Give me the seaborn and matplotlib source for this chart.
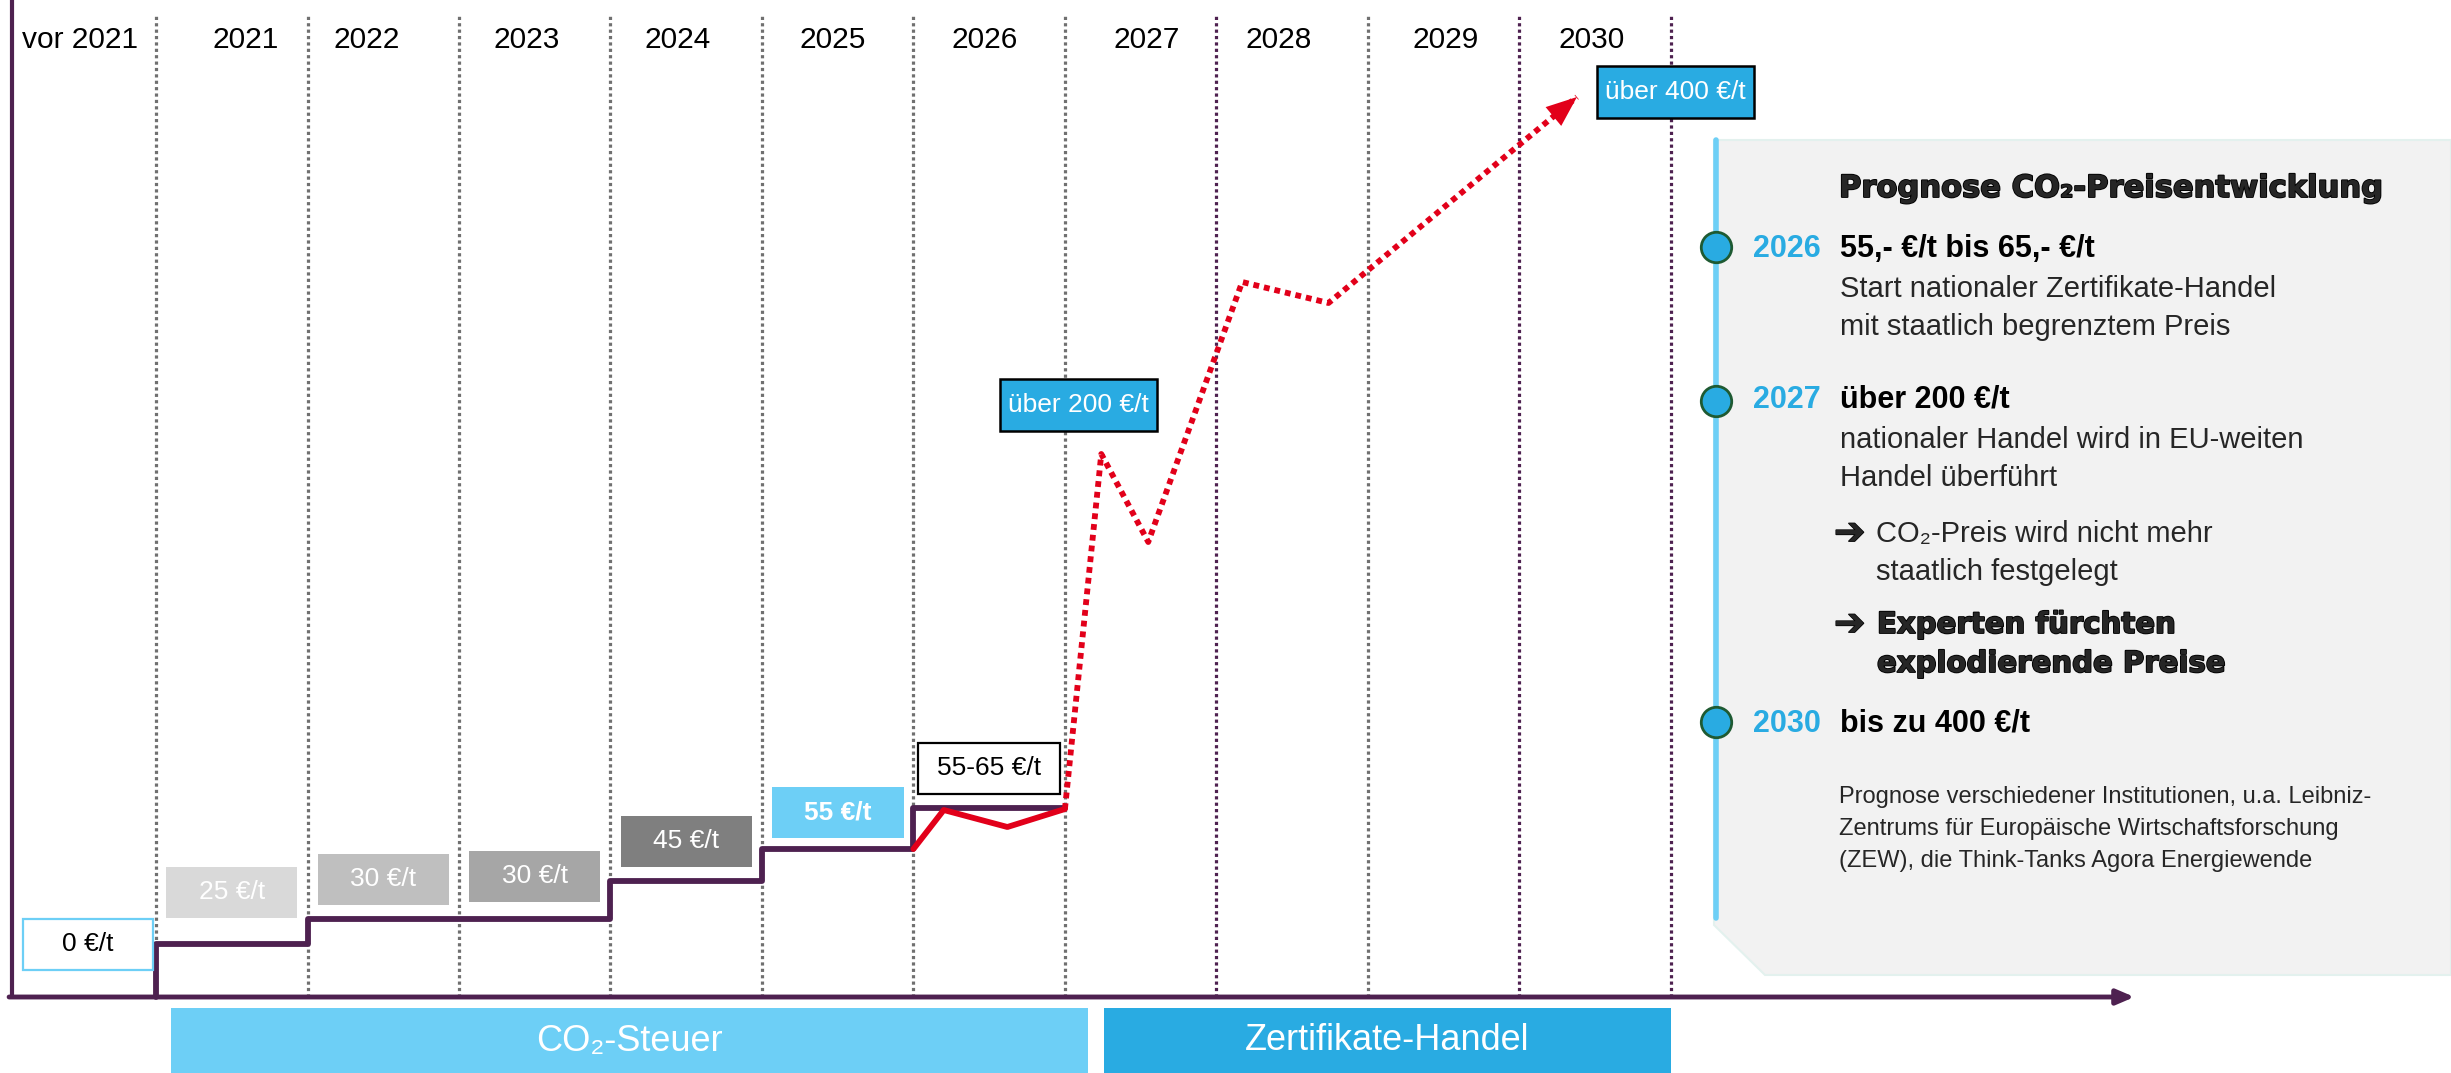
import matplotlib
matplotlib.use('Agg')
import matplotlib.pyplot as plt
import matplotlib.patheffects as pe
from matplotlib.patches import Rectangle, Polygon
import seaborn as sns

sns.set_theme(style='white')
plt.rcParams['font.family'] = ['Liberation Sans', 'DejaVu Sans']

# Zeitachse (x in Spaltenbreiten, Spalte 0 = 2021)
jahre = ['vor 2021', '2021', '2022', '2023', '2024', '2025', '2026', '2027', '2028', '2029', '2030']
jahr_x = [-0.5, 0.59, 1.39, 2.45, 3.44, 4.47, 5.47, 6.54, 7.41, 8.51, 9.48]
grenzen = [0, 1, 2, 3, 4, 5, 6, 7, 8, 9, 10]
grenz_lila = [False, False, False, False, False, False, False, True, False, True, True]

# CO2-Steuer als Treppe (Hoehe im Bild, nicht massstabsgetreu)
stufen_x = [0, 0, 1, 2, 3, 4, 5, 6]
stufen_y = [0, 5.3, 7.8, 7.8, 11.6, 14.8, 18.9, 18.9]

# Preisschilder
preis_text = ['0 €/t', '25 €/t', '30 €/t', '30 €/t', '45 €/t', '55 €/t', '55-65 €/t']
preis_x = [-0.45, 0.5, 1.5, 2.5, 3.5, 4.5, 5.5]
preis_y = [5.3, 10.5, 11.8, 12.1, 15.6, 18.5, 22.9]

# nationaler Handel 2026 (rot, durchgezogen) und Prognose ab 2027 (rot, gepunktet)
handel_x = [5.0, 5.2, 5.62, 6.0]
handel_y = [14.8, 18.7, 17.0, 18.8]
prognose_x = [6.0, 6.24, 6.55, 7.17, 7.74, 9.38]
prognose_y = [18.8, 54.3, 45.5, 71.5, 69.4, 90.0]

prognose_text = ['über 200 €/t', 'über 400 €/t']
prognose_lx = [6.09, 10.03]
prognose_ly = [59.2, 90.5]

# Phasen unten
phasen = ['CO₂-Steuer', 'Zertifikate-Handel']
phase_von = [0.1, 6.26]
phase_bis = [6.15, 10.0]

# Textblock rechts
panel_jahre = ['2026', '2027', '2030']
panel_kopf = ['55,- €/t bis 65,- €/t', 'über 200 €/t', 'bis zu 400 €/t']
panel_text = [['Start nationaler Zertifikate-Handel', 'mit staatlich begrenztem Preis'],
              ['nationaler Handel wird in EU-weiten', 'Handel überführt'],
              []]
quelle = ['Prognose verschiedener Institutionen, u.a. Leibniz-',
          'Zentrums für Europäische Wirtschaftsforschung',
          '(ZEW), die Think-Tanks Agora Energiewende']

lila = '#4E2150'
grau = '#707070'
rot = '#E2001A'
hellblau = '#6DCFF6'
blau = '#29ABE2'

W, H = 2451, 1073
fig = plt.figure(figsize=(W / 100, H / 100), dpi=100)
fig.patch.set_facecolor('white')

ax = fig.add_axes([0, 0, 1, 1])
ax.set_xlim(-1.03, 15.15)
ax.set_ylim(-7.6, 99.7)
ax.axis('off')

# Spaltengrenzen
for g, is_lila in zip(grenzen, grenz_lila):
    ax.plot([g, g], [0, 98.3], color=lila if is_lila else grau, lw=2.3,
            linestyle=(0, (1, 1)), zorder=1)

for j, x in zip(jahre, jahr_x):
    ax.text(x, 94.9, j, ha='center', va='baseline', fontsize=21.5, color='black')

# Achsen
ax.plot([-0.95, -0.95], [0, 99.7], color=lila, lw=3, zorder=2)
ax.annotate('', xy=(13.06, 0), xytext=(-0.97, 0),
            arrowprops=dict(arrowstyle='-|>,head_length=0.7,head_width=0.3',
                            color=lila, lw=3.5, shrinkA=0, shrinkB=0, mutation_scale=15),
            zorder=2)

# Treppe
sns.lineplot(x=stufen_x, y=stufen_y, drawstyle='steps-post', sort=False, estimator=None,
             color=lila, linewidth=4.2, ax=ax, zorder=3)

# rote Linien
sns.lineplot(x=handel_x, y=handel_y, sort=False, estimator=None, color=rot,
             linewidth=4.2, ax=ax, zorder=4)
sns.lineplot(x=prognose_x, y=prognose_y, sort=False, estimator=None, color=rot,
             linewidth=4.2, linestyle=(0, (1, 0.85)), ax=ax, zorder=4)
ax.annotate('', xy=(prognose_x[-1], prognose_y[-1]),
            xytext=(prognose_x[-2] + 0.9 * (prognose_x[-1] - prognose_x[-2]),
                    prognose_y[-2] + 0.9 * (prognose_y[-1] - prognose_y[-2])),
            arrowprops=dict(arrowstyle='-|>,head_length=1.0,head_width=0.4',
                            color=rot, lw=0, shrinkA=0, shrinkB=0, mutation_scale=22),
            zorder=4)

# Preisschilder
box_w = [0.86, 0.865, 0.865, 0.865, 0.865, 0.87, 0.94]
box_fill = ['white', '#D9D9D9', '#BFBFBF', '#A6A6A6', '#7F7F7F', hellblau, 'white']
box_edge = [hellblau, 'none', 'none', 'none', 'none', 'none', 'black']
box_tc = ['black', 'white', 'white', 'white', 'white', 'white', 'black']
box_fw = ['normal'] * 5 + ['bold', 'normal']
for i, t in enumerate(preis_text):
    ax.add_patch(Rectangle((preis_x[i] - box_w[i] / 2, preis_y[i] - 2.55), box_w[i], 5.1,
                           facecolor=box_fill[i], edgecolor=box_edge[i], lw=1.6, zorder=3))
    ax.text(preis_x[i], preis_y[i], t, ha='center', va='center', fontsize=19,
            color=box_tc[i], fontweight=box_fw[i], zorder=5)

for t, x, y in zip(prognose_text, prognose_lx, prognose_ly):
    ax.add_patch(Rectangle((x - 0.52, y - 2.6), 1.04, 5.2, facecolor=blau,
                           edgecolor='black', lw=1.8, zorder=5))
    ax.text(x, y, t, ha='center', va='center', fontsize=19, color='white', zorder=6)

# Phasenbalken
for p, a, b, c in zip(phasen, phase_von, phase_bis, [hellblau, blau]):
    ax.add_patch(Rectangle((a, -7.6), b - a, 6.5, facecolor=c, edgecolor='none', zorder=2))
    ax.text((a + b) / 2, -4.4, p, ha='center', va='center', fontsize=26, color='white',
            zorder=3)

# Textblock rechts (Pixelkoordinaten)
axp = fig.add_axes([0, 0, 1, 1])
axp.set_xlim(0, W)
axp.set_ylim(H, 0)
axp.axis('off')

axp.add_patch(Polygon([(1714, 140), (W, 140), (W, 975), (1765, 975), (1714, 925)],
                      closed=True, facecolor='#F2F2F2', edgecolor='#E3F1EE', lw=1.5, zorder=1))
axp.plot([1716, 1716], [140, 918], color=hellblau, lw=4, zorder=2)
sns.scatterplot(x=[1716, 1716, 1716], y=[247, 401, 722], s=480, color=blau,
                edgecolor='#1E5A32', linewidth=2, ax=axp, zorder=3)

heavy = ['DejaVu Sans']
dick = [pe.withStroke(linewidth=1.3, foreground='black')]
axp.text(1839, 197, 'Prognose CO₂-Preisentwicklung', family=heavy, fontweight='bold',
         fontsize=22, va='baseline', ha='left', path_effects=dick)

basis = [257, 408, 732]
for jahr, kopf, zeilen, b in zip(panel_jahre, panel_kopf, panel_text, basis):
    axp.text(1753, b, jahr, color=blau, fontweight='bold', fontsize=22, va='baseline')
    axp.text(1840, b, kopf, color='black', fontweight='bold', fontsize=22, va='baseline')
    for k, z in enumerate(zeilen):
        axp.text(1840, b + 40 + k * 38, z, fontsize=21, va='baseline')

for yb in [544, 635]:
    axp.text(1834, yb, '➔', family=['DejaVu Sans'], fontweight='bold', fontsize=27,
             va='baseline', path_effects=[pe.withStroke(linewidth=1, foreground='black')])
axp.text(1876, 542, 'CO₂-Preis wird nicht mehr', fontsize=21, va='baseline')
axp.text(1876, 580, 'staatlich festgelegt', fontsize=21, va='baseline')
axp.text(1877, 633, 'Experten fürchten', family=heavy, fontweight='bold', fontsize=21,
         va='baseline', path_effects=dick)
axp.text(1877, 672, 'explodierende Preise', family=heavy, fontweight='bold', fontsize=21,
         va='baseline', path_effects=dick)

for k, z in enumerate(quelle):
    axp.text(1839, 803 + k * 32, z, fontsize=17, va='baseline')

fig.savefig('out.png', dpi=100, facecolor='white')
